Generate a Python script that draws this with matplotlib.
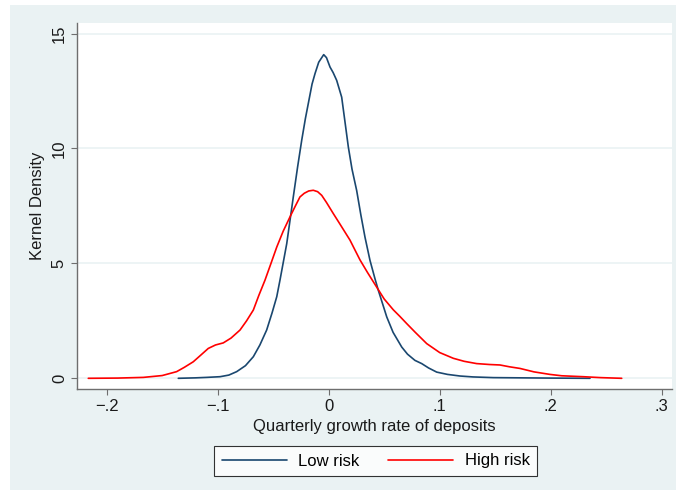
import matplotlib.pyplot as plt
from matplotlib.patches import Rectangle

# kernel density estimates, quarterly deposit growth
low_x = [-0.1355, -0.12, -0.11, -0.0979, -0.09, -0.0829, -0.075, -0.0679, -0.062,
         -0.0559, -0.051, -0.0468, -0.0439, -0.0378, -0.0319, -0.028, -0.0243,
         -0.021, -0.0184, -0.015, -0.0123, -0.009, -0.0045, -0.002, 0.0012, 0.004,
         0.0072, 0.0117, 0.014, 0.0177, 0.021, 0.0252, 0.029, 0.0327, 0.0372,
         0.0417, 0.0447, 0.0523, 0.058, 0.0658, 0.071, 0.0777, 0.0838, 0.09,
         0.0973, 0.107, 0.1183, 0.13, 0.1483, 0.199, 0.2354]
low_y = [0.0, 0.02, 0.04, 0.07, 0.14, 0.29, 0.55, 0.94, 1.45,
         2.10, 2.85, 3.55, 4.27, 5.86, 7.89, 9.2, 10.36,
         11.3, 11.95, 12.8, 13.26, 13.75, 14.08, 13.95, 13.54, 13.3,
         12.96, 12.23, 11.4, 10.06, 9.1, 8.17, 7.1, 6.14, 5.13,
         4.33, 3.83, 2.67, 2.0, 1.36, 1.05, 0.78, 0.64, 0.45,
         0.27, 0.17, 0.10, 0.06, 0.03, 0.01, 0.0]

high_x = [-0.2166, -0.19, -0.167, -0.15, -0.137, -0.13, -0.122, -0.115, -0.1085,
          -0.102, -0.095, -0.088, -0.0799, -0.074, -0.0679, -0.063, -0.0574,
          -0.052, -0.0468, -0.041, -0.0349, -0.030, -0.0259, -0.022, -0.018,
          -0.0139, -0.010, -0.0063, -0.002, 0.0041, 0.010, 0.0192, 0.024, 0.0282,
          0.035, 0.0432, 0.050, 0.0582, 0.064, 0.0703, 0.078, 0.0883, 0.100,
          0.1123, 0.122, 0.1333, 0.145, 0.1543, 0.163, 0.1723, 0.185, 0.1993,
          0.21, 0.2294, 0.245, 0.264]
high_y = [0.0, 0.01, 0.04, 0.12, 0.29, 0.48, 0.72, 1.02, 1.30,
          1.45, 1.54, 1.75, 2.10, 2.5, 2.97, 3.6, 4.27,
          5.0, 5.71, 6.4, 7.02, 7.5, 7.89, 8.05, 8.15,
          8.18, 8.12, 7.96, 7.65, 7.17, 6.72, 6.01, 5.55, 5.15,
          4.6, 3.97, 3.45, 2.98, 2.7, 2.38, 2.0, 1.51, 1.12,
          0.87, 0.74, 0.64, 0.6, 0.58, 0.5, 0.43, 0.28, 0.17,
          0.11, 0.07, 0.03, 0.0]

xticks = [-0.2, -0.1, 0, 0.1, 0.2, 0.3]
xticklabels = ['\u2212.2', '\u2212.1', '0', '.1', '.2', '.3']
yticks = [0, 5, 10, 15]

bg = '#EAF2F3'
navy = '#1A476F'
red = '#FF0000'
axcol = '#6E6E6E'

plt.rcParams['font.family'] = ['Liberation Sans', 'DejaVu Sans']

fig = plt.figure(figsize=(6.78, 4.95), dpi=100)
fig.patch.set_facecolor('white')
fig.add_artist(Rectangle((10 / 678, 5 / 495), 666 / 678, 485 / 495,
                         transform=fig.transFigure, facecolor=bg,
                         edgecolor='none', zorder=-1))

ax = fig.add_axes([77.3 / 678, 1 - 389 / 495, (672 - 77.3) / 678, (389 - 22.7) / 495])
ax.set_zorder(1)
ax.set_facecolor('white')

ax.plot(low_x, low_y, color=navy, lw=1.2, label='Low risk',
        solid_joinstyle='round', solid_capstyle='round')
ax.plot(high_x, high_y, color=red, lw=1.2, label='High risk',
        solid_joinstyle='round', solid_capstyle='round')

ax.set_xlim(-0.2265, 0.3093)
ax.set_ylim(-0.465, 15.47)
ax.set_xticks(xticks)
ax.set_xticklabels(xticklabels)
ax.set_yticks(yticks)
ax.set_yticklabels([str(t) for t in yticks], rotation=90, va='center')

ax.grid(axis='y', color=bg, lw=1.2)
ax.set_axisbelow(True)
for side in ['top', 'right']:
    ax.spines[side].set_visible(False)
for side in ['left', 'bottom']:
    ax.spines[side].set_color(axcol)
    ax.spines[side].set_linewidth(1.0)

ax.tick_params(axis='both', direction='out', length=4.5, width=0.8,
               color=axcol, labelsize=12, labelcolor='#1a1a1a', pad=3)

ax.set_xlabel('Quarterly growth rate of deposits', fontsize=12, color='#1a1a1a', labelpad=3)
ax.set_ylabel('Kernel Density', fontsize=12, color='#1a1a1a', labelpad=5)

leg = fig.legend(loc='center', bbox_to_anchor=(375.6 / 678, 1 - 461 / 495),
                 ncol=2, fontsize=12, frameon=True, fancybox=False,
                 handlelength=3.9, handletextpad=0.7, columnspacing=1.7,
                 borderpad=0.45)
leg.set_zorder(2)
leg.get_frame().set_edgecolor('black')
leg.get_frame().set_linewidth(0.8)
leg.get_frame().set_facecolor('white')

fig.savefig('out.png', dpi=100)
